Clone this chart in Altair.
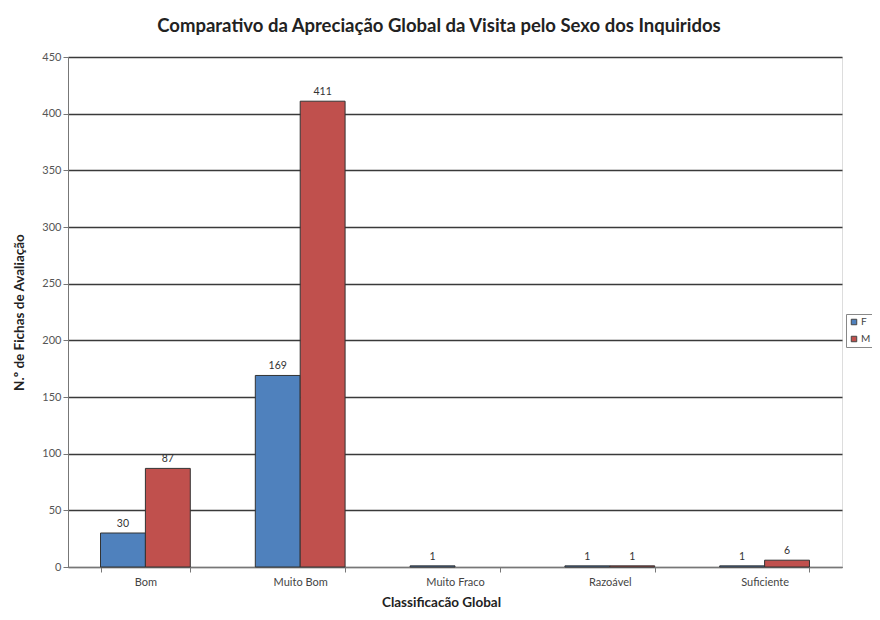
import altair as alt
import pandas as pd

categories = ["Bom", "Muito Bom", "Muito Fraco", "Razoável", "Suficiente"]
f_values = [30, 169, 1, 1, 1]
m_values = [87, 411, 0, 1, 6]
series = ["F", "M"]
colors = ["#4F81BD", "#C0504D"]

rows = []
for c, fv, mv in zip(categories, f_values, m_values):
    rows.append({"cat": c, "sexo": "F", "valor": fv})
    rows.append({"cat": c, "sexo": "M", "valor": mv})
df = pd.DataFrame(rows)

FONT = "Lato"

x_enc = alt.X(
    "cat:N",
    sort=categories,
    scale=alt.Scale(paddingInner=0.42, paddingOuter=0.21),
    axis=alt.Axis(
        title="Classificacão Global",
        labelAngle=0,
        tickBand="extent",
        labelFontSize=11,
        labelColor="#444",
        labelFont=FONT,
        labelPadding=4,
        tickSize=5,
        tickColor="#777",
        domainColor="#777",
        titleFont=FONT,
        titleFontSize=13.5,
        titleFontWeight="bold",
        titleColor="#222",
        titleX=373,
        titleY=28,
    ),
)
xoff = alt.XOffset("sexo:N", scale=alt.Scale(domain=series))
y_enc = alt.Y(
    "valor:Q",
    scale=alt.Scale(domain=[0, 450], nice=False),
    axis=alt.Axis(
        title="N.º de Fichas de Avaliação",
        values=list(range(0, 451, 50)),
        labelFontSize=11,
        labelColor="#555",
        labelFont=FONT,
        tickSize=5,
        tickColor="#777",
        domainColor="#777",
        gridColor="#3a3a3a",
        gridWidth=1.5,
        titleFont=FONT,
        titleFontSize=13.5,
        titleFontWeight="bold",
        titleColor="#222",
        titleX=-42,
        titleY=255,
    ),
)
color_enc = alt.Color(
    "sexo:N",
    scale=alt.Scale(domain=series, range=colors),
    legend=alt.Legend(
        title=None,
        orient="none",
        legendX=778,
        legendY=257,
        strokeColor="#888",
        padding=3,
        symbolType="square",
        symbolSize=30,
        symbolStrokeColor="#444",
        symbolStrokeWidth=1,
        labelFontSize=10,
        labelFont=FONT,
        labelColor="#444",
        labelOffset=2,
        rowPadding=7,
    ),
)

base = alt.Chart(df).transform_filter("datum.valor > 0")

bars = base.mark_bar(stroke="#333", strokeWidth=1).encode(
    x=x_enc, xOffset=xoff, y=y_enc, color=color_enc
)
texts = base.mark_text(dy=-9, fontSize=10.5, font=FONT, color="#333").encode(
    x=alt.X("cat:N", sort=categories), xOffset=xoff, y="valor:Q", text="valor:Q"
)

chart = (
    alt.layer(bars, texts)
    .properties(
        width=774,
        height=510,
        autosize=alt.AutoSizeParams(type="none"),
        padding={"left": 60, "top": 49, "right": 30, "bottom": 45},
        title=alt.TitleParams(
            "Comparativo da Apreciação Global da Visita pelo Sexo dos Inquiridos",
            font=FONT,
            fontSize=18.5,
            fontWeight="bold",
            color="#222",
            anchor="middle",
            dx=-16,
            offset=16,
        ),
    )
    .configure_view(fill="#E3E3E3", stroke="#888", strokeWidth=1.5)
    .configure(background="white")
)

chart.save("out.html", embed_options={"renderer": "svg", "actions": False})
